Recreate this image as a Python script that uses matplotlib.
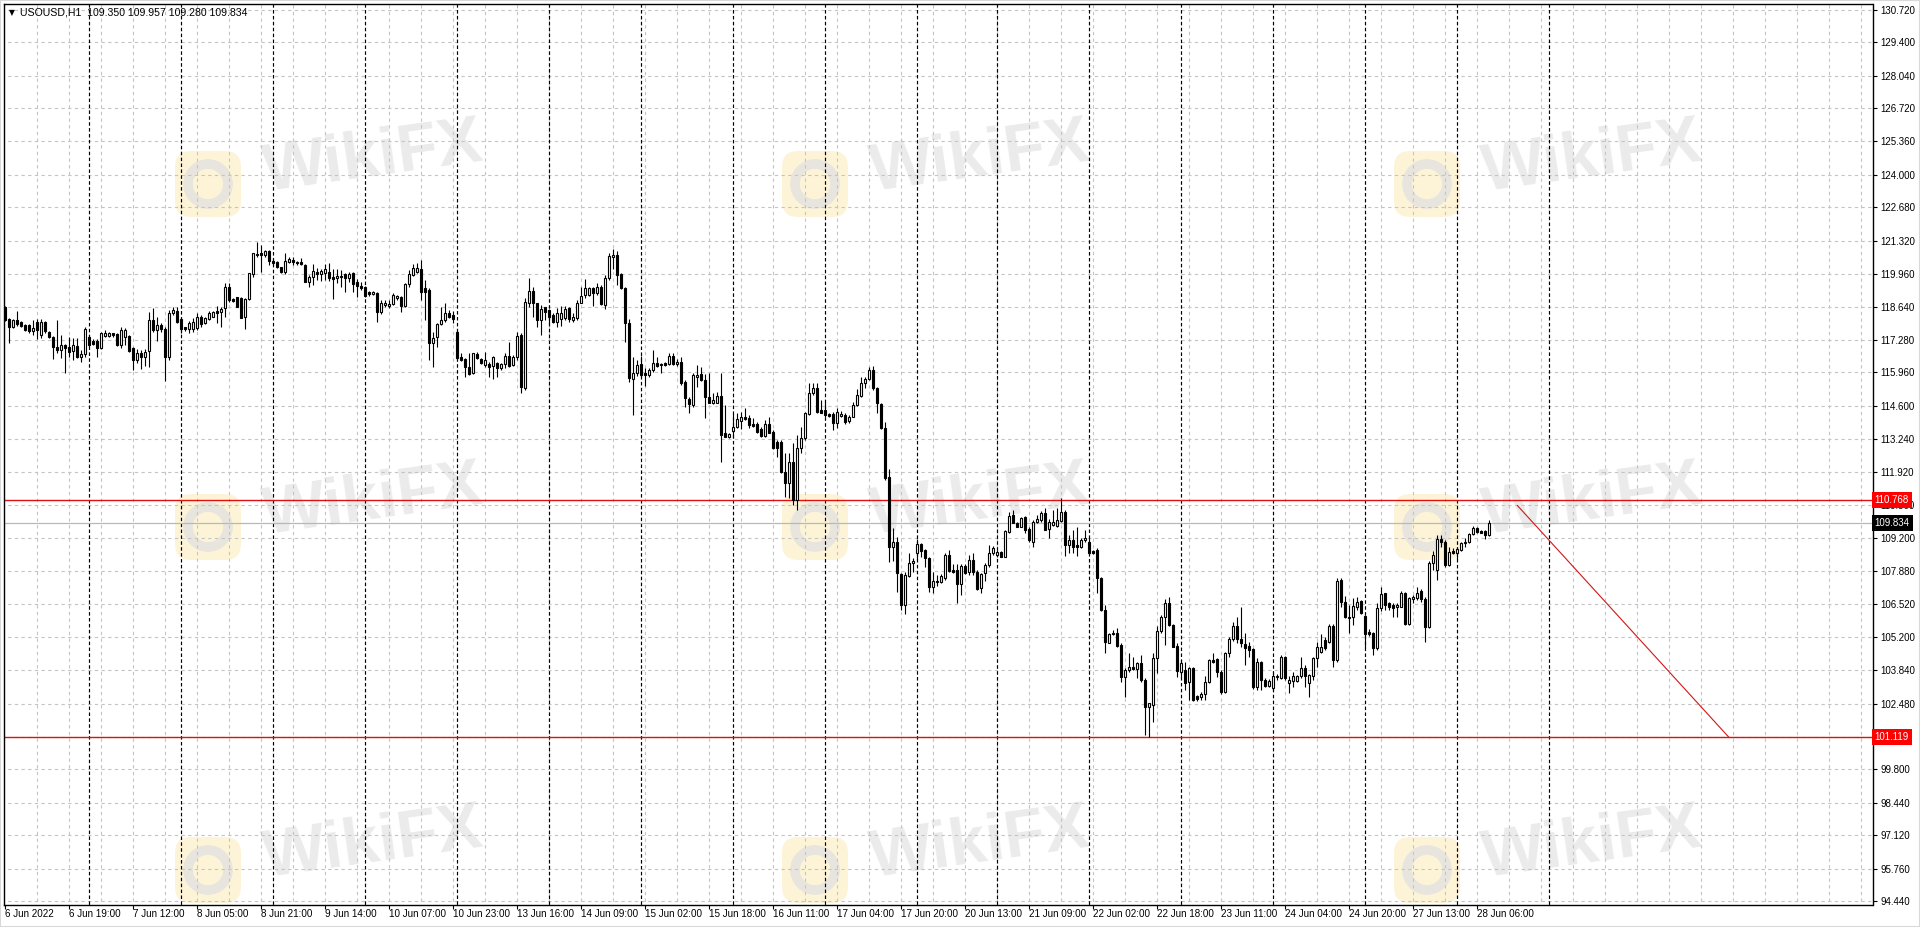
import numpy as np
import matplotlib.pyplot as plt
import matplotlib.transforms as mtransforms
from matplotlib.patches import FancyBboxPatch, Circle, Rectangle

# USOUSD H1 candles, 6 Jun 2022 03:00 -> 28 Jun 2022 09:00 (23 bars per trading day)
opens = [
    118.61, 118.13, 117.79, 118.09, 118.02, 117.89, 117.89, 117.66, 118.02, 117.48,
    118.02, 117.62, 117.41, 117.01, 116.87, 117.08, 116.98, 116.84, 117.03, 116.60,
    116.71, 117.39, 117.24, 117.25, 116.94, 117.45, 117.45, 117.55, 117.52, 117.08,
    117.41, 117.44, 116.94, 116.46, 116.74, 116.60, 116.84, 118.09, 117.69, 117.89,
    117.71, 116.60, 118.39, 118.47, 118.13, 117.79, 117.71, 117.71, 117.75, 118.20,
    117.96, 118.12, 118.23, 118.47, 118.43, 118.57, 119.42, 118.96, 119.01, 118.97,
    118.20, 118.93, 119.96, 120.78, 120.81, 120.73, 120.89, 120.51, 120.47, 120.24,
    120.06, 120.47, 120.53, 120.47, 120.45, 120.33, 119.65, 119.83, 120.06, 119.96,
    120.02, 120.06, 119.83, 119.79, 119.88, 119.96, 119.79, 119.99, 119.65, 119.48,
    119.45, 119.25, 119.15, 119.20, 118.43, 118.70, 118.66, 118.74, 118.97, 119.01,
    118.66, 119.56, 119.92, 120.06, 120.15, 119.38, 119.31, 117.17, 117.39, 117.93,
    118.09, 118.36, 118.30, 117.62, 116.57, 116.49, 116.19, 115.92, 116.71, 116.49,
    116.26, 116.30, 116.22, 116.33, 116.12, 116.30, 116.63, 116.26, 116.57, 117.48,
    115.31, 118.80, 119.29, 118.77, 118.09, 118.61, 118.50, 118.30, 118.02, 118.12,
    118.16, 118.57, 118.09, 118.16, 118.80, 119.11, 119.11, 119.38, 119.20, 119.45,
    118.70, 119.79, 120.64, 120.74, 119.96, 119.38, 117.96, 115.68, 115.92, 116.30,
    115.92, 115.85, 116.06, 116.36, 116.30, 116.33, 116.30, 116.63, 116.30, 116.40,
    115.58, 114.86, 114.63, 115.76, 115.89, 115.65, 114.97, 114.73, 114.73, 115.00,
    113.48, 113.34, 113.59, 113.72, 113.99, 114.16, 114.09, 113.86, 113.86, 113.64,
    113.37, 113.86, 113.53, 113.14, 113.14, 111.92, 111.44, 112.33, 110.77, 112.87,
    113.28, 114.27, 115.11, 115.31, 114.43, 114.43, 114.27, 114.27, 113.89, 114.19,
    114.23, 113.99, 114.16, 114.63, 115.00, 115.51, 115.68, 116.06, 115.31, 114.67,
    113.68, 111.69, 108.84, 109.07, 107.75, 106.49, 107.67, 108.19, 108.62, 108.97,
    108.73, 108.39, 107.24, 107.48, 107.44, 107.58, 108.53, 107.92, 107.92, 107.35,
    108.08, 107.85, 108.32, 107.85, 107.17, 107.78, 108.12, 108.59, 108.53, 108.66,
    108.46, 109.48, 110.15, 109.82, 109.68, 110.06, 109.57, 109.07, 109.88, 109.95,
    110.25, 109.57, 109.75, 109.71, 109.92, 110.29, 108.93, 109.14, 108.93, 108.87,
    109.14, 109.07, 108.70, 108.73, 107.58, 106.29, 104.96, 105.31, 105.36, 104.86,
    103.57, 103.85, 103.98, 103.87, 104.12, 103.44, 102.35, 102.42, 104.32, 105.45,
    105.99, 106.56, 105.68, 104.82, 103.78, 103.85, 103.37, 103.91, 102.79, 102.76,
    102.87, 103.37, 104.25, 104.28, 103.78, 102.96, 104.52, 105.09, 105.64, 105.09,
    104.90, 104.82, 104.69, 103.14, 104.18, 103.44, 103.19, 103.10, 103.55, 103.51,
    104.39, 103.30, 103.41, 103.41, 103.60, 103.91, 103.30, 103.60, 104.32, 104.59,
    105.07, 105.00, 105.64, 104.25, 107.51, 106.63, 106.02, 106.02, 106.42, 106.65,
    106.04, 105.40, 105.34, 104.73, 106.36, 106.97, 106.56, 106.49, 106.40, 106.42,
    106.99, 105.72, 106.72, 106.76, 107.07, 106.72, 105.58, 108.19, 107.92, 109.16,
    109.07, 108.12, 108.70, 108.62, 108.73, 109.00, 109.07, 109.38, 109.61, 109.52,
    109.52, 109.350,
]
highs = [
    118.66, 118.16, 118.12, 118.46, 118.05, 117.92, 117.93, 118.09, 118.12, 118.12,
    118.05, 117.66, 117.45, 118.09, 117.48, 117.12, 117.41, 117.35, 117.35, 116.87,
    117.82, 117.50, 117.30, 117.30, 117.62, 117.69, 117.62, 117.58, 117.55, 117.79,
    117.75, 117.48, 116.98, 116.90, 116.87, 116.90, 118.43, 118.57, 118.23, 117.98,
    117.82, 118.50, 118.64, 118.61, 118.16, 117.82, 118.05, 118.16, 118.39, 118.30,
    118.20, 118.47, 118.47, 118.66, 118.61, 119.59, 119.59, 118.99, 119.04, 119.04,
    119.00, 120.02, 120.83, 121.28, 121.15, 120.94, 120.94, 120.56, 120.51, 120.26,
    120.81, 120.64, 120.64, 120.51, 120.60, 120.37, 119.92, 120.37, 120.20, 120.15,
    120.37, 120.40, 120.15, 120.15, 120.13, 119.99, 120.06, 120.06, 119.75, 119.65,
    119.48, 119.29, 119.29, 119.22, 118.91, 118.91, 118.91, 119.18, 119.11, 119.07,
    119.61, 120.13, 120.37, 120.40, 120.53, 119.72, 119.38, 117.62, 117.96, 118.61,
    118.80, 118.50, 118.47, 117.66, 116.76, 116.53, 116.74, 116.76, 116.80, 116.53,
    116.80, 116.40, 116.63, 116.40, 116.36, 116.76, 117.21, 116.67, 117.62, 117.55,
    118.97, 119.79, 119.45, 118.80, 118.70, 118.64, 118.53, 118.36, 118.57, 118.66,
    118.66, 118.61, 118.39, 118.91, 119.45, 119.75, 119.45, 119.45, 119.59, 119.52,
    119.92, 120.83, 120.97, 120.91, 119.99, 119.45, 118.12, 116.60, 116.46, 116.63,
    116.12, 116.12, 116.87, 116.60, 116.36, 116.40, 116.76, 116.76, 116.49, 116.60,
    115.65, 114.97, 115.92, 116.26, 116.19, 115.89, 115.92, 115.11, 115.17, 115.95,
    114.63, 113.48, 114.27, 114.32, 114.36, 114.50, 114.23, 114.09, 113.95, 113.75,
    114.02, 114.16, 113.61, 113.21, 113.21, 112.66, 112.66, 113.07, 113.41, 113.75,
    114.36, 115.51, 115.51, 115.51, 114.84, 114.77, 114.30, 114.36, 114.50, 114.40,
    114.29, 114.23, 114.77, 115.27, 115.79, 115.79, 116.19, 116.22, 115.35, 114.73,
    113.95, 112.01, 109.61, 109.27, 107.78, 107.85, 108.62, 108.39, 109.16, 109.00,
    108.76, 108.46, 107.85, 107.71, 107.75, 108.62, 108.73, 108.16, 108.16, 108.16,
    108.16, 108.53, 108.59, 107.92, 107.81, 108.21, 108.93, 108.89, 108.73, 108.70,
    109.55, 110.29, 110.36, 109.88, 110.09, 110.11, 109.65, 109.95, 110.15, 110.33,
    110.43, 109.98, 110.36, 110.43, 110.83, 110.36, 109.34, 109.54, 109.65, 109.20,
    109.54, 109.24, 108.73, 108.80, 107.64, 106.49, 105.36, 105.47, 105.54, 104.93,
    103.91, 104.52, 104.39, 104.18, 104.45, 103.50, 102.49, 104.52, 105.64, 106.08,
    106.72, 106.80, 105.72, 104.93, 104.25, 104.18, 103.98, 103.98, 102.82, 102.96,
    103.60, 104.28, 104.52, 104.32, 103.85, 104.59, 105.20, 105.81, 106.02, 106.42,
    105.36, 105.00, 104.73, 104.32, 104.22, 103.51, 103.47, 103.78, 103.68, 104.46,
    104.42, 103.60, 103.78, 103.64, 104.36, 104.05, 103.68, 104.39, 105.00, 105.31,
    105.20, 105.72, 105.72, 107.58, 107.58, 106.86, 106.49, 106.76, 106.83, 106.69,
    106.08, 105.50, 105.40, 106.56, 107.21, 106.99, 106.63, 106.59, 106.59, 107.07,
    107.03, 106.83, 106.90, 107.21, 107.13, 106.80, 108.30, 108.70, 109.34, 109.34,
    109.14, 108.84, 108.80, 108.84, 109.07, 109.20, 109.44, 109.71, 109.68, 109.54,
    109.54, 109.957,
]
lows = [
    118.05, 117.17, 117.75, 117.85, 117.80, 117.66, 117.58, 117.48, 117.31, 117.35,
    117.58, 117.35, 116.49, 116.74, 116.53, 115.92, 116.60, 116.46, 116.53, 116.40,
    116.60, 117.01, 117.08, 116.57, 116.90, 117.41, 117.41, 117.41, 117.03, 116.94,
    117.08, 116.80, 116.06, 116.33, 116.08, 116.22, 116.19, 117.62, 117.25, 117.62,
    115.62, 116.46, 118.30, 117.96, 117.58, 117.66, 117.58, 117.62, 117.69, 117.82,
    117.93, 118.09, 118.20, 117.96, 117.82, 118.23, 118.84, 118.84, 118.61, 118.16,
    117.71, 118.91, 119.83, 120.67, 120.06, 120.67, 120.33, 120.40, 120.20, 119.99,
    119.96, 120.40, 120.33, 120.33, 120.33, 119.65, 119.45, 119.52, 119.72, 119.69,
    119.72, 119.69, 118.93, 119.59, 119.45, 119.25, 119.65, 119.25, 119.01, 119.31,
    119.04, 119.07, 119.11, 118.02, 118.33, 118.64, 118.57, 118.70, 118.91, 118.43,
    118.61, 119.45, 119.88, 120.02, 118.91, 118.09, 116.46, 116.17, 117.01, 117.89,
    118.02, 118.16, 117.96, 116.49, 116.44, 115.79, 115.85, 115.89, 116.49, 116.30,
    116.19, 115.79, 115.68, 115.79, 116.06, 116.12, 116.19, 116.22, 116.46, 115.11,
    115.24, 118.61, 118.23, 117.82, 117.48, 118.09, 117.89, 117.96, 117.82, 117.85,
    118.09, 118.02, 118.02, 118.09, 118.77, 118.97, 119.07, 118.66, 119.11, 118.70,
    118.53, 119.72, 120.15, 119.52, 119.34, 117.21, 115.58, 114.23, 115.81, 115.79,
    115.41, 115.79, 115.99, 116.19, 115.92, 116.22, 116.26, 116.26, 116.22, 115.45,
    114.56, 114.32, 114.56, 115.38, 115.62, 114.09, 114.70, 114.67, 114.70, 112.33,
    113.32, 113.28, 113.28, 113.68, 113.64, 114.02, 113.68, 113.75, 113.48, 113.34,
    113.34, 113.48, 112.83, 112.53, 111.85, 110.90, 110.83, 110.56, 110.36, 112.66,
    113.21, 114.23, 115.04, 114.29, 114.29, 114.16, 114.13, 113.61, 113.68, 114.16,
    113.86, 113.91, 114.13, 114.59, 114.97, 115.31, 115.65, 115.24, 114.32, 113.64,
    111.58, 108.26, 108.30, 107.03, 106.29, 106.12, 107.64, 107.85, 108.32, 108.46,
    108.05, 107.03, 106.97, 107.26, 107.37, 107.51, 107.85, 107.81, 106.59, 106.90,
    107.75, 107.71, 107.71, 107.10, 106.97, 107.48, 108.05, 108.53, 108.46, 108.43,
    108.43, 109.44, 109.82, 109.65, 109.65, 109.41, 109.07, 108.84, 109.82, 109.88,
    109.54, 109.20, 109.71, 109.65, 109.88, 108.49, 108.59, 108.62, 108.49, 108.80,
    109.07, 108.57, 108.55, 106.99, 106.26, 104.52, 104.93, 105.27, 104.79, 103.37,
    102.76, 103.78, 103.84, 103.50, 103.37, 101.20, 101.13, 101.74, 103.71, 105.34,
    104.86, 105.64, 104.77, 103.57, 103.57, 103.03, 102.62, 102.58, 102.60, 102.62,
    102.62, 103.30, 104.12, 103.57, 102.87, 102.92, 104.39, 105.04, 104.93, 104.79,
    104.05, 104.39, 103.06, 103.03, 103.03, 103.17, 103.14, 103.03, 103.44, 103.47,
    103.44, 102.92, 103.17, 103.37, 103.51, 103.17, 102.76, 103.44, 103.98, 104.52,
    104.66, 104.93, 103.98, 104.18, 106.42, 105.95, 105.36, 105.68, 106.29, 106.12,
    104.73, 105.23, 104.46, 104.66, 106.26, 106.29, 106.29, 106.02, 106.02, 106.40,
    105.68, 105.68, 106.56, 106.69, 106.63, 105.00, 105.54, 107.92, 107.51, 108.86,
    108.05, 108.08, 108.57, 108.35, 108.70, 108.84, 109.03, 109.34, 109.44, 109.41,
    109.16, 109.280,
]
closes = [
    118.09, 117.79, 118.09, 117.93, 117.85, 117.69, 117.66, 117.78, 117.69, 118.02,
    117.66, 117.39, 116.98, 116.87, 117.08, 116.94, 116.80, 117.08, 116.60, 116.71,
    117.71, 117.08, 117.12, 116.94, 117.55, 117.55, 117.55, 117.48, 117.08, 117.69,
    117.69, 116.84, 116.46, 116.74, 116.57, 116.80, 118.09, 117.69, 117.89, 117.71,
    116.60, 118.39, 118.50, 118.02, 117.71, 117.71, 117.96, 118.02, 118.20, 117.93,
    118.16, 118.39, 118.43, 118.39, 118.53, 119.42, 118.91, 118.88, 118.64, 118.16,
    118.96, 119.99, 120.81, 120.73, 120.74, 120.89, 120.51, 120.43, 120.24, 120.06,
    120.51, 120.56, 120.47, 120.40, 120.36, 119.65, 119.86, 120.10, 119.96, 120.10,
    120.15, 119.79, 119.75, 119.88, 119.83, 119.79, 119.96, 119.56, 119.48, 119.38,
    119.07, 119.15, 119.25, 118.43, 118.77, 118.80, 118.74, 119.11, 119.07, 118.66,
    119.56, 119.96, 120.20, 120.20, 119.25, 119.25, 117.17, 117.35, 117.93, 118.09,
    118.36, 118.23, 118.12, 116.53, 116.46, 116.19, 115.89, 116.74, 116.53, 116.33,
    116.46, 116.19, 116.60, 116.12, 116.30, 116.63, 116.22, 116.60, 117.44, 115.38,
    118.84, 119.29, 118.77, 118.09, 118.53, 118.43, 118.23, 118.02, 118.36, 118.36,
    118.53, 118.12, 118.23, 118.80, 119.07, 119.38, 119.38, 119.20, 119.45, 118.74,
    119.79, 120.70, 120.74, 119.92, 119.38, 117.96, 115.72, 115.92, 116.26, 115.85,
    115.85, 116.06, 116.36, 116.22, 116.26, 116.26, 116.63, 116.30, 116.40, 115.51,
    114.90, 114.67, 115.85, 115.85, 115.65, 114.94, 114.73, 114.84, 115.00, 113.41,
    113.34, 113.45, 113.72, 114.05, 114.16, 114.05, 113.82, 113.78, 113.55, 113.37,
    113.86, 113.51, 112.87, 112.87, 111.92, 111.44, 112.33, 110.77, 112.87, 113.28,
    114.29, 115.11, 115.31, 114.36, 114.32, 114.23, 114.19, 113.89, 114.36, 114.27,
    113.95, 114.16, 114.63, 115.04, 115.51, 115.68, 116.06, 115.31, 114.70, 113.68,
    111.65, 108.87, 109.07, 107.78, 106.49, 107.71, 108.21, 108.30, 108.97, 108.70,
    108.39, 107.24, 107.48, 107.44, 107.67, 108.53, 107.89, 107.85, 107.35, 108.08,
    107.81, 108.32, 107.85, 107.13, 107.75, 108.12, 108.62, 108.80, 108.66, 108.46,
    109.52, 110.11, 109.84, 109.68, 110.02, 109.54, 109.14, 109.88, 109.98, 110.25,
    109.54, 109.88, 109.88, 109.95, 110.29, 108.93, 109.14, 108.87, 108.87, 109.14,
    109.20, 108.59, 108.59, 107.58, 106.29, 105.00, 105.31, 105.36, 104.82, 103.57,
    103.85, 103.98, 103.87, 104.14, 103.44, 102.35, 102.49, 104.32, 105.45, 105.99,
    106.56, 105.68, 104.79, 103.82, 104.12, 103.30, 103.91, 102.62, 102.65, 102.87,
    103.37, 104.25, 104.18, 103.78, 102.96, 104.55, 105.09, 105.64, 105.09, 104.93,
    104.73, 104.66, 103.14, 104.18, 103.44, 103.19, 103.41, 103.60, 103.60, 104.39,
    103.51, 103.44, 103.60, 103.60, 103.91, 103.60, 103.64, 104.32, 104.77, 104.77,
    104.73, 105.64, 104.25, 107.48, 106.63, 105.99, 105.95, 106.45, 106.63, 106.15,
    105.31, 105.31, 104.73, 106.36, 106.94, 106.49, 106.42, 106.36, 106.49, 106.99,
    105.72, 106.76, 106.80, 106.99, 106.72, 105.58, 108.21, 108.53, 109.16, 109.07,
    108.12, 108.66, 108.62, 108.76, 109.00, 109.07, 109.38, 109.61, 109.48, 109.44,
    109.34, 109.834,
]

# time axis: a label every 16 bars, day separators at the first bar of each day
date_labels = ['6 Jun 2022', '6 Jun 19:00', '7 Jun 12:00', '8 Jun 05:00', '8 Jun 21:00',
               '9 Jun 14:00', '10 Jun 07:00', '10 Jun 23:00', '13 Jun 16:00', '14 Jun 09:00',
               '15 Jun 02:00', '15 Jun 18:00', '16 Jun 11:00', '17 Jun 04:00', '17 Jun 20:00',
               '20 Jun 13:00', '21 Jun 09:00', '22 Jun 02:00', '22 Jun 18:00', '23 Jun 11:00',
               '24 Jun 04:00', '24 Jun 20:00', '27 Jun 13:00', '28 Jun 06:00']
label_step = 16
day_starts = [21, 44, 67, 90, 113, 136, 159, 182, 205, 228, 248, 271, 294, 317, 340, 363, 386]

price_ticks = [130.720, 129.400, 128.040, 126.720, 125.360, 124.000, 122.680, 121.320,
               119.960, 118.640, 117.280, 115.960, 114.600, 113.240, 111.920, 110.560,
               109.200, 107.880, 106.520, 105.200, 103.840, 102.480, 101.120, 99.800,
               98.440, 97.120, 95.760, 94.440]

resistance = 110.768
support = 101.119
bid = 109.834
trend_bars = [378.1, 430.9]
trend_prices = [110.54, 101.119]
header = 'USOUSD,H1  109.350 109.957 109.280 109.834'

W, H = 1920, 927
FONT = 'Liberation Sans'
FS_Y = 7.0
FS_X = 7.1
FS_HEAD = 7.6

fig = plt.figure(figsize=(W / 100, H / 100), dpi=100)
fig.patch.set_facecolor('white')

# plot area in pixels
left_px, right_px, top_px, bottom_px = 3.5, 1872.5, 3.5, 904.5
ax = fig.add_axes([left_px / W, 1 - bottom_px / H, (right_px - left_px) / W, (bottom_px - top_px) / H])
ax.patch.set_alpha(0)
ax.set_xlim(-0.375, 466.875)
ax.set_ylim(94.299, 130.976)

# watermark (behind everything)
wm_text = [(373, 159), (980, 159), (1592, 159), (373, 502), (980, 502), (1592, 502),
           (373, 845), (980, 845), (1592, 845)]
for (cx, cy) in wm_text:
    fig.text(cx / W, 1 - cy / H, 'WikiFX', fontsize=48, fontweight='bold', family=FONT,
             color='#ebebeb', rotation=8, ha='center', va='center', zorder=-5)
    lx, ly = cx - 165, cy + 25
    box = FancyBboxPatch(((lx - 33) / 100, (H - ly - 33) / 100), 0.66, 0.66,
                         boxstyle='round,pad=0,rounding_size=0.16',
                         transform=fig.dpi_scale_trans, facecolor='#fdf4d8',
                         edgecolor='none', zorder=-6)
    fig.add_artist(box)
    ring = Circle((lx / 100, (H - ly) / 100), 0.2, transform=fig.dpi_scale_trans,
                  facecolor='none', edgecolor='#e8e5de', linewidth=7, zorder=-5)
    fig.add_artist(ring)

# grid
gray_dash = (0, (3, 3))
ax.hlines(price_ticks, -1, 470, colors='#c4c4c4', linestyles=gray_dash, linewidth=0.8, zorder=1)
ax.vlines(np.arange(label_step // 2, 467, label_step // 2), 90, 135, colors='#c4c4c4',
          linestyles=gray_dash, linewidth=0.8, zorder=1)
ax.vlines(day_starts, 90, 135, colors='black', linestyles=(0, (3, 2)), linewidth=0.85, zorder=1.2)

# level lines
ax.axhline(bid, color='#b8b8b8', linewidth=0.9, zorder=1.5)
ax.axhline(resistance, color='#e01010', linewidth=1.0, zorder=1.6)
ax.axhline(support, color='#e01010', linewidth=1.0, zorder=1.6)
ax.plot(trend_bars, trend_prices, color='#d01818', linewidth=0.8, zorder=1.6)

# candles
o = np.array(opens)
h = np.array(highs)
l = np.array(lows)
c = np.array(closes)
x = np.arange(len(o))
ax.vlines(x, l, h, colors='black', linewidth=0.8, zorder=2)
up = c >= o
body = np.maximum(np.abs(c - o), 0.03)
ax.bar(x[up], body[up], bottom=o[up], width=0.5, facecolor='white', edgecolor='black',
       linewidth=0.8, zorder=3)
ax.bar(x[~up], body[~up], bottom=c[~up], width=0.5, facecolor='black', edgecolor='black',
       linewidth=0.8, zorder=3)

# axes look
for s in ax.spines.values():
    s.set_color('black')
    s.set_linewidth(1.0)
ax.yaxis.tick_right()
ax.set_yticks(price_ticks)
# the 101.120 scale label sits under the support price tag in the terminal
ax.set_yticklabels(['' if abs(v - support) < 0.01 else '%.3f' % v for v in price_ticks])
ax.tick_params(axis='y', length=3, width=0.8, pad=2.5, labelsize=FS_Y, colors='black')
ax.set_xticks(np.arange(len(date_labels)) * label_step)
ax.set_xticklabels(date_labels)
ax.tick_params(axis='x', length=3, width=0.8, pad=0.5, labelsize=FS_X, colors='black')
for t in ax.get_xticklabels() + ax.get_yticklabels():
    t.set_family(FONT)
for t in ax.get_xticklabels():
    t.set_horizontalalignment('left')

# price tags on the right scale
tr = mtransforms.blended_transform_factory(ax.transAxes, ax.transData)
for val, bg in [(resistance, '#ff0000'), (support, '#ff0000'), (bid, 'black')]:
    ax.text(1.0012, val, '%.3f' % val, transform=tr, ha='left', va='center', color='white',
            fontsize=FS_Y, family=FONT, zorder=10, clip_on=False,
            bbox=dict(boxstyle='square,pad=0.3', facecolor=bg, edgecolor='none'))

# header
fig.text(9 / W, 1 - 12.5 / H, '\u25bc', fontsize=5.5, color='black', va='center', ha='left')
fig.text(20 / W, 1 - 12.5 / H, header, fontsize=FS_HEAD, family=FONT, color='black',
         va='center', ha='left')

# window border
fig.add_artist(Rectangle((0, 0), 1, 1, transform=fig.transFigure, fill=False,
                         edgecolor='#d8d8d8', linewidth=1.5))

fig.savefig('out.png', dpi=100)
